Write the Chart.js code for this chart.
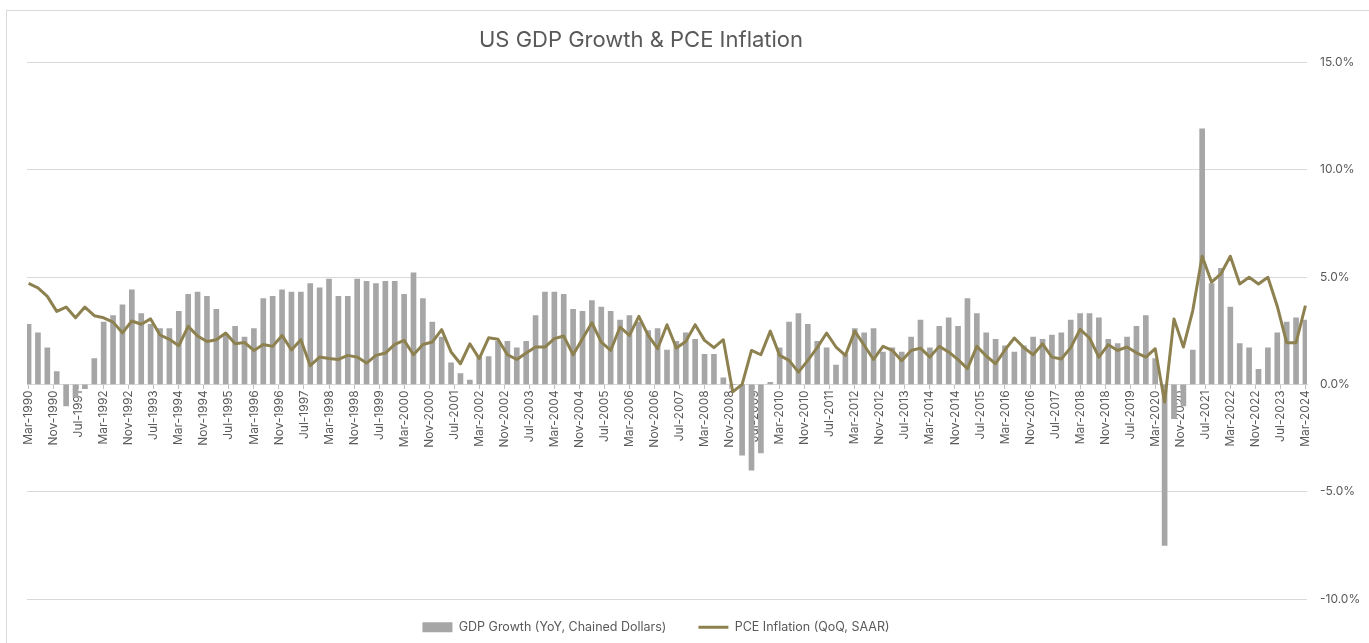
<!DOCTYPE html>
<html>
<head>
<meta charset="utf-8">
<script src="https://cdn.jsdelivr.net/npm/chart.js@4.4.1/dist/chart.umd.min.js"></script>
<style>
  html, body { margin: 0; padding: 0; background: #fff; overflow: hidden; }
  #wrap { position: relative; width: 1369px; height: 643px; }
  #frame { position: absolute; left: 6px; top: 10px; width: 1400px; height: 700px; border: 1px solid #d9d9d9; }
  #myChart { position: absolute; left: 0; top: 0; }
</style>
</head>
<body>
<div id="wrap">
  <div id="frame"></div>
  <canvas id="myChart" width="1369" height="643"></canvas>
</div>
<script>
// quarterly values, one row per year (Mar, Jun, Sep, Dec), Mar-1990 .. Mar-2024
const gdpGrowth = [
  2.8, 2.4, 1.7, 0.6,     // 1990
  -1.0, -0.6, -0.2, 1.2,  // 1991
  2.9, 3.2, 3.7, 4.4,     // 1992
  3.3, 2.8, 2.6, 2.6,     // 1993
  3.4, 4.2, 4.3, 4.1,     // 1994
  3.5, 2.3, 2.7, 2.2,     // 1995
  2.6, 4.0, 4.1, 4.4,     // 1996
  4.3, 4.3, 4.7, 4.5,     // 1997
  4.9, 4.1, 4.1, 4.9,     // 1998
  4.8, 4.7, 4.8, 4.8,     // 1999
  4.2, 5.2, 4.0, 2.9,     // 2000
  2.2, 1.0, 0.5, 0.2,     // 2001
  1.3, 1.3, 2.0, 2.0,     // 2002
  1.7, 2.0, 3.2, 4.3,     // 2003
  4.3, 4.2, 3.5, 3.4,     // 2004
  3.9, 3.6, 3.4, 3.0,     // 2005
  3.2, 2.9, 2.5, 2.6,     // 2006
  1.6, 2.0, 2.4, 2.1,     // 2007
  1.4, 1.4, 0.3, 0.0,     // 2008
  -3.3, -4.0, -3.2, 0.1,  // 2009
  1.7, 2.9, 3.3, 2.8,     // 2010
  2.0, 1.7, 0.9, 1.4,     // 2011
  2.6, 2.4, 2.6, 1.5,     // 2012
  1.7, 1.5, 2.2, 3.0,     // 2013
  1.7, 2.7, 3.1, 2.7,     // 2014
  4.0, 3.3, 2.4, 2.1,     // 2015
  1.8, 1.5, 1.8, 2.2,     // 2016
  2.1, 2.3, 2.4, 3.0,     // 2017
  3.3, 3.3, 3.1, 2.1,     // 2018
  1.9, 2.2, 2.7, 3.2,     // 2019
  1.2, -7.5, -1.6, -1.0,  // 2020
  1.6, 11.9, 4.7, 5.4,    // 2021
  3.6, 1.9, 1.7, 0.7,     // 2022
  1.7, 2.4, 2.9, 3.1,     // 2023
  3.0                     // 2024
];

const pceInflation = [
  4.7, 4.5, 4.1, 3.4,
  3.6, 3.1, 3.6, 3.2,
  3.1, 2.9, 2.4, 2.95,
  2.8, 3.05, 2.3, 2.1,
  1.8, 2.7, 2.25, 2.0,
  2.08, 2.39, 1.89, 1.95,
  1.58, 1.86, 1.77, 2.28,
  1.6, 2.08, 0.87, 1.27,
  1.2, 1.16, 1.35, 1.27,
  0.99, 1.35, 1.46, 1.86,
  2.05, 1.38, 1.86, 1.97,
  2.55, 1.51, 0.96, 1.89,
  1.2, 2.17, 2.1, 1.38,
  1.16, 1.46, 1.74, 1.74,
  2.13, 2.25, 1.38, 2.13,
  2.87, 1.97, 1.58, 2.67,
  2.28, 3.17, 2.28, 1.66,
  2.78, 1.69, 2.0, 2.78,
  2.05, 1.71, 2.08, -0.35,
  0.0, 1.58, 1.38, 2.48,
  1.35, 1.12, 0.57, 1.12,
  1.71, 2.39, 1.74, 1.35,
  2.48, 1.82, 1.16, 1.77,
  1.58, 1.1, 1.58, 1.69,
  1.27, 1.77, 1.51, 1.15,
  0.73, 1.77, 1.32, 0.96,
  1.61, 2.16, 1.71, 1.38,
  1.89, 1.27, 1.18, 1.71,
  2.56, 2.16, 1.27, 1.85,
  1.58, 1.74, 1.47, 1.27,
  1.66, -0.82, 3.05, 1.74,
  3.44, 5.97, 4.76, 5.15,
  5.97, 4.68, 4.99, 4.68,
  4.99, 3.64, 1.94, 1.94,
  3.67
];

const monthNames = ['Jan', 'Feb', 'Mar', 'Apr', 'May', 'Jun', 'Jul', 'Aug', 'Sep', 'Oct', 'Nov', 'Dec'];
const yTickValues = [-10, -5, 0, 5, 10, 15];

const textColor = '#595959';
const gridColor = '#d9d9d9';
const barColor = '#a6a6a6';
const lineColor = '#8e8150';

// monthly axis so the date labels step every 8 months like the original
let labels = [];
for (let y = 1990; y <= 2024; y++) {
  for (let m = 0; m < 12; m++) {
    if (y === 1990 && m < 2) continue;
    if (y === 2024 && m > 2) break;
    labels.push(monthNames[m] + '-' + y);
  }
}
const gdpMonthly = labels.map((l, i) => i % 3 === 0 ? gdpGrowth[i / 3] : null);
const pceMonthly = labels.map((l, i) => i % 3 === 0 ? pceInflation[i / 3] : null);

// legend / title nudges to sit where the original has them
const nudge = {
  id: 'nudge',
  beforeInit(chart) {
    const fit = chart.legend.fit;
    chart.legend.fit = function () {
      fit.call(this);
      this.height = 44;
    };
  },
  afterLayout(chart) {
    const lg = chart.legend;
    lg.left -= 42; lg.right -= 42;
    lg.top -= 10; lg.bottom -= 10;
    const t = chart.titleBlock;
    t.left -= 57; t.right -= 57;
  }
};

Chart.defaults.font.family = 'Inter';
Chart.defaults.color = textColor;

const ctx = document.getElementById('myChart').getContext('2d');
const myChart = new Chart(ctx, {
  type: 'bar',
  data: {
    labels: labels,
    datasets: [{
      label: 'GDP Growth (YoY, Chained Dollars)',
      data: gdpMonthly,
      backgroundColor: barColor,
      barThickness: 5,
      order: 1
    }, {
      type: 'line',
      label: 'PCE Inflation (QoQ, SAAR)',
      data: pceMonthly,
      borderColor: lineColor,
      backgroundColor: lineColor,
      borderWidth: 3,
      borderJoinStyle: 'round',
      spanGaps: true,
      pointRadius: 0,
      pointHoverRadius: 0,
      tension: 0,
      order: 0
    }]
  },
  options: {
    responsive: false,
    animation: false,
    layout: { padding: { left: 27, right: 0, top: 0, bottom: 0 } },
    plugins: {
      title: {
        display: true,
        text: 'US GDP Growth & PCE Inflation',
        color: textColor,
        font: { size: 22, weight: 'normal' },
        padding: { top: 27, bottom: 9 }
      },
      legend: {
        position: 'bottom',
        labels: {
          usePointStyle: true,
          pointStyleWidth: 30,
          boxHeight: 10,
          padding: 32,
          color: textColor,
          font: { size: 12.5 },
          sort: (a, b) => a.datasetIndex - b.datasetIndex,
          generateLabels(chart) {
            const items = Chart.defaults.plugins.legend.labels.generateLabels(chart);
            items.forEach(it => {
              if (it.datasetIndex === 0) {
                it.pointStyle = 'rect';
                it.fillStyle = barColor;
                it.lineWidth = 0;
              } else {
                it.pointStyle = 'line';
                it.strokeStyle = lineColor;
                it.lineWidth = 3;
              }
            });
            return items;
          }
        }
      },
      tooltip: { enabled: false }
    },
    scales: {
      x: {
        position: { y: 0 },
        offset: true,
        grid: {
          display: true,
          drawOnChartArea: false,
          drawTicks: true,
          tickLength: 4,
          offset: false,
          color: c => c.index % 8 === 0 ? '#bfbfbf' : 'rgba(0,0,0,0)'
        },
        border: { display: true, color: gridColor },
        ticks: {
          autoSkip: false,
          minRotation: 90,
          maxRotation: 90,
          padding: 2,
          color: textColor,
          font: { size: 12 },
          callback: (v, i) => i % 8 === 0 ? labels[i] : ''
        }
      },
      y: {
        position: 'right',
        min: yTickValues[0],
        max: yTickValues[yTickValues.length - 1],
        afterFit: s => { s.width = 62; },
        grid: { color: gridColor, drawTicks: false },
        border: { display: false },
        ticks: {
          stepSize: 5,
          padding: 13,
          color: textColor,
          font: { size: 12 },
          callback: v => v.toFixed(1) + '%'
        }
      }
    }
  },
  plugins: [nudge]
});
</script>
</body>
</html>
